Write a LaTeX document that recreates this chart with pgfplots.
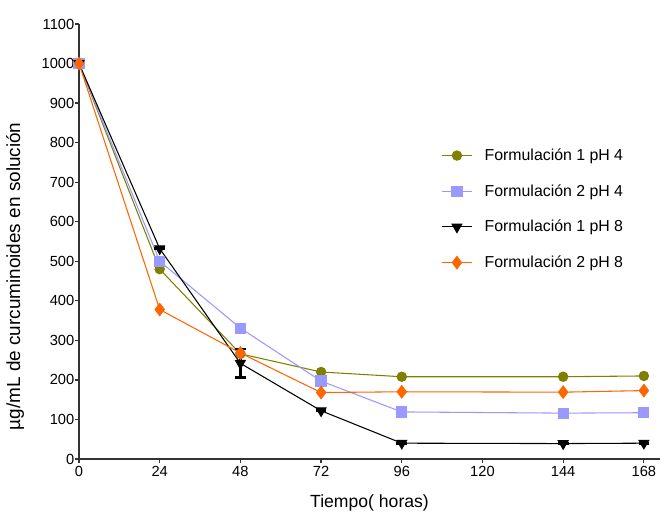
\documentclass[border=0pt]{standalone}
\usepackage{pgfplots}
\pgfplotsset{compat=1.18}
\usepackage{fontspec}
\setmainfont{Liberation Sans}
\definecolor{olivec}{RGB}{128,128,0}
\definecolor{bluec}{RGB}{153,153,255}
\definecolor{orangec}{RGB}{255,102,0}
\begin{document}
\begin{tikzpicture}
\begin{axis}[
  scale only axis,
  width=435.75pt, height=326.25pt,
  xmin=0, xmax=172.8, ymin=0, ymax=1100,
  axis lines*=left,
  axis line style={line width=0.9pt, black!80},
  tick align=outside,
  tick style={line width=0.9pt, black!80},
  major tick length=3pt,
  xtick={0,24,48,72,96,120,144,168},
  ytick={0,100,...,1100},
  /pgf/number format/1000 sep={},
  /pgf/number format/assume math mode=true,
  ticklabel style={font=\fontsize{11}{13}\selectfont},
  yticklabel style={xshift=3pt},
  xticklabel style={yshift=1pt},
  xlabel={Tiempo( horas)},
  ylabel={µg/mL de curcuminoides en solución},
  xlabel style={font=\fontsize{13.2}{15}\selectfont, at={(rel axis cs:0.5,-0.101)}, anchor=center},
  ylabel style={font=\fontsize{14.2}{16}\selectfont, at={(rel axis cs:-0.110,0.42)}, anchor=center},
  clip=false,
  legend style={at={(rel axis cs:0.623,0.72)}, anchor=north west, draw=none, fill=none,
    inner sep=0pt, font=\fontsize{11.9}{14}\selectfont, row sep=12.5pt,
    nodes={inner xsep=9pt}},
  legend cell align=left,
  legend image code/.code={\draw[mark repeat=2,mark phase=2] plot coordinates {(0cm,0cm) (0.4cm,0cm) (0.8cm,0cm)};},
]
\coordinate (ll) at (rel axis cs:0,0);
\coordinate (ur) at (rel axis cs:1,1);
\addplot[olivec, mark=*, mark size=3.5pt, line width=0.8pt] coordinates {
 (0,1000) (24,480) (48,266) (72,220) (96,208) (144,208) (168,210)};
\addlegendentry{Formulación 1 pH 4}
\addplot[bluec, mark=square*, mark size=3.8pt, line width=0.8pt] coordinates {
 (0,1000) (24,500) (48,331) (72,197) (96,119) (144,116) (168,117)};
\addlegendentry{Formulación 2 pH 4}
\addplot[black, mark=triangle*, mark options={rotate=180}, mark size=4.2pt, line width=0.8pt,
  error bars/.cd, y dir=both, y explicit, error bar style={line width=2pt}, error mark options={line width=2pt, mark size=4pt, rotate=90}] coordinates {
 (0,1000) +- (0,8) (24,532) +- (0,0) (48,242) +- (0,36) (72,122) +- (0,0) (96,40) +- (0,0) (144,39) +- (0,0) (168,40) +- (0,0)};
\addlegendentry{Formulación 1 pH 8}
\addplot[orangec, mark=diamond*, mark size=4.6pt, line width=0.8pt] coordinates {
 (0,1000) (24,378) (48,268) (72,168) (96,170) (144,169) (168,173)};
\addlegendentry{Formulación 2 pH 8}
\end{axis}
\pgfresetboundingbox
\path ([shift={(-59.25pt,-40.5pt)}]ll) rectangle ([shift={(3pt,18pt)}]ur);
\end{tikzpicture}
\end{document}
